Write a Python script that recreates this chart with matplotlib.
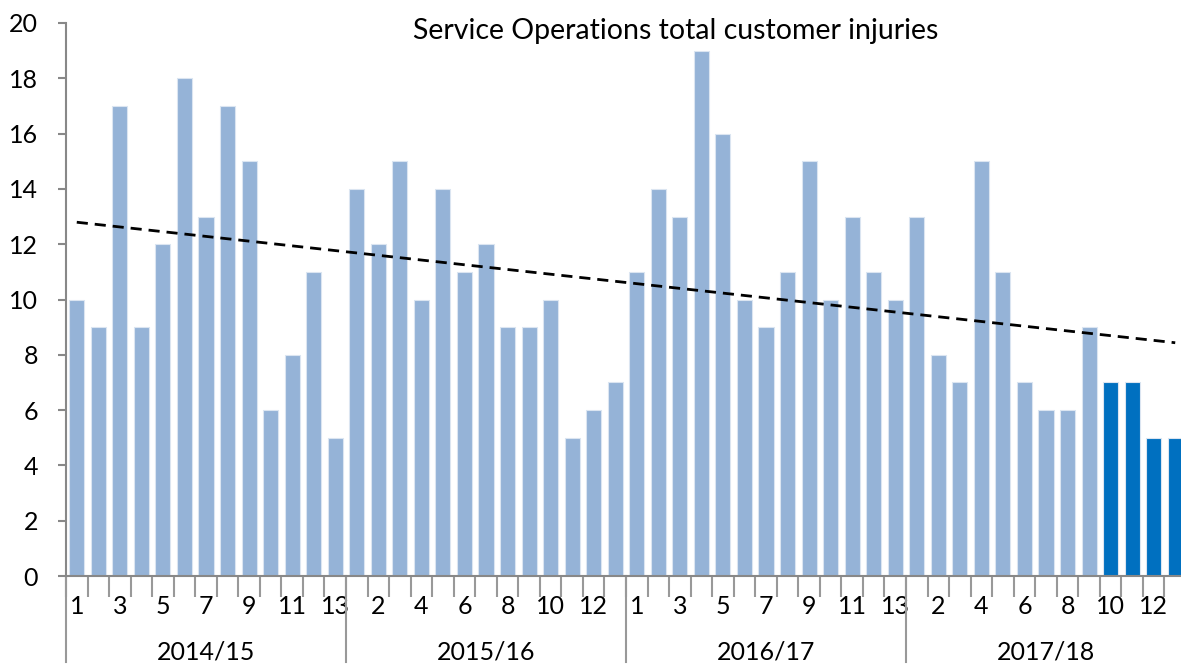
import numpy as np
import matplotlib.pyplot as plt
from matplotlib.transforms import blended_transform_factory

# customer injuries per period (13 periods per year)
years = ['2014/15', '2015/16', '2016/17', '2017/18']
inj_1415 = [10, 9, 17, 9, 12, 18, 13, 17, 15, 6, 8, 11, 5]
inj_1516 = [14, 12, 15, 10, 14, 11, 12, 9, 9, 10, 5, 6, 7]
inj_1617 = [11, 14, 13, 19, 16, 10, 9, 11, 15, 10, 13, 11, 10]
inj_1718 = [13, 8, 7, 15, 11, 7, 6, 6, 9, 7, 7, 5, 5]
n_highlight = 4  # last periods shown in dark blue

values = np.array(inj_1415 + inj_1516 + inj_1617 + inj_1718)
periods = list(range(1, 14)) * 4
n = len(values)
x = np.arange(n)

light = '#95b3d7'
dark = '#0070c0'
colors = [light] * (n - n_highlight) + [dark] * n_highlight

plt.rcParams['font.family'] = ['Lato', 'DejaVu Sans']

fig = plt.figure(figsize=(11.81, 6.64), dpi=100)
ax = fig.add_axes([66 / 1181, 88 / 664, 1120 / 1181, 553 / 664])

ax.bar(x, values, width=0.7, color=colors, edgecolor='#dbe5f1', linewidth=0.8, zorder=2)

# linear trend
coef = np.polyfit(x, values, 1)
ax.plot(x, np.polyval(coef, x), color='black', linestyle=(0, (4, 2.5)), linewidth=2, zorder=3)

ax.set_xlim(-0.5, n - 0.5)
ax.set_ylim(0, 20)
ax.set_yticks(range(0, 21, 2))
ax.tick_params(axis='y', labelsize=18, length=6, width=1.5, color='#888888', pad=14)

# category boundaries as tick marks, labels on every second period
ax.set_xticks(np.arange(n + 1) - 0.5)
ax.set_xticklabels([])
ax.tick_params(axis='x', which='major', length=15, width=1.5, color='#999999')
lab_idx = x[::2]
ax.set_xticks(lab_idx, minor=True)
ax.set_xticklabels([str(periods[i]) for i in lab_idx], minor=True)
ax.tick_params(axis='x', which='minor', length=0, labelsize=18, pad=14)

for s in ['top', 'right']:
    ax.spines[s].set_visible(False)
for s in ['left', 'bottom']:
    ax.spines[s].set_color('#888888')
    ax.spines[s].set_linewidth(1.5)

# year separators and labels
trans = blended_transform_factory(ax.transData, ax.transAxes)
for k in range(len(years) + 1):
    ax.plot([k * 13 - 0.5] * 2, [0, -86 / 553], transform=trans, color='#999999',
            linewidth=1.5, clip_on=False)
for k, yr in enumerate(years):
    ax.text(k * 13 + 6, -87 / 553, yr, transform=trans, ha='center', va='bottom', fontsize=18)

fig.text(676 / 1181, 1 - 31 / 664, 'Service Operations total customer injuries',
         ha='center', va='center', fontsize=20.5)

fig.savefig('out.png', dpi=100)
